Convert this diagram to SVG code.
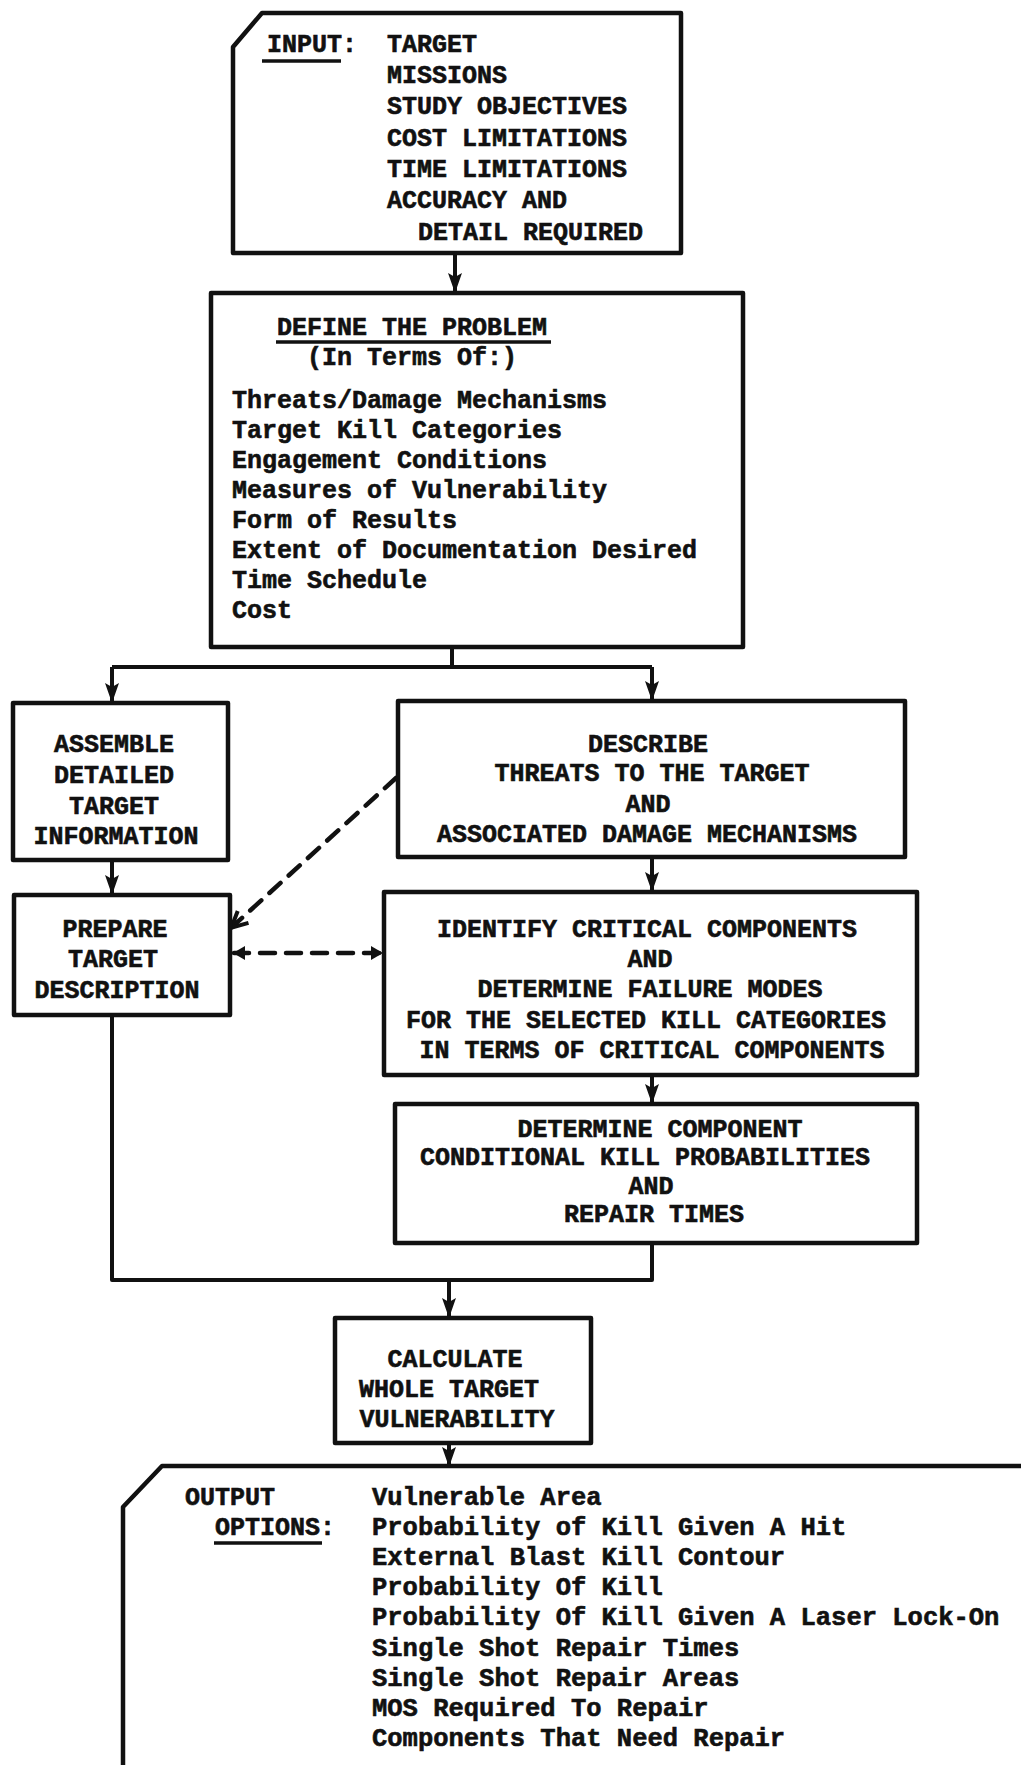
<svg xmlns="http://www.w3.org/2000/svg" width="1021" height="1765" viewBox="0 0 1021 1765">
<style>
.bg{fill:#ffffff}
.box{fill:none;stroke:#111;stroke-width:4.5;stroke-linejoin:round}
.ln{fill:none;stroke:#111;stroke-width:4;stroke-linejoin:round}
.dash{fill:none;stroke:#111;stroke-width:4.5;stroke-dasharray:15 11;stroke-linecap:round}
.t{font-family:"Liberation Mono","DejaVu Sans Mono",monospace;font-weight:bold;font-size:25px;fill:#111;stroke:#111;stroke-width:0.6}
.c{text-anchor:middle}
.ul{stroke:#111;stroke-width:3.5}
</style>
<defs>
<marker id="arr" markerUnits="userSpaceOnUse" markerWidth="20" markerHeight="16" refX="19" refY="8" orient="auto">
<path d="M0,1 L20,8 L0,15 L4,8 Z" fill="#111"/>
</marker>
<marker id="arrv" markerUnits="userSpaceOnUse" markerWidth="20" markerHeight="20" refX="17" refY="10" orient="auto">
<path d="M2,2 L18,10 L2,18" fill="none" stroke="#111" stroke-width="4"/>
</marker>
<marker id="arrs" markerUnits="userSpaceOnUse" markerWidth="12" markerHeight="16" refX="11" refY="8" orient="auto-start-reverse">
<path d="M0,1 L12,8 L0,15 Z" fill="#111"/>
</marker>
</defs>
<rect class="bg" x="0" y="0" width="1021" height="1765"/>

<g id="connectors">
<line class="ln" x1="455" y1="253" x2="455" y2="292" marker-end="url(#arr)"/>
<polyline class="ln" points="452,647 452,667"/>
<polyline class="ln" points="112,667 652,667"/>
<line class="ln" x1="112" y1="667" x2="112" y2="702" marker-end="url(#arr)"/>
<line class="ln" x1="652" y1="667" x2="652" y2="700" marker-end="url(#arr)"/>
<line class="ln" x1="112" y1="860" x2="112" y2="894" marker-end="url(#arr)"/>
<line class="ln" x1="652" y1="857" x2="652" y2="891" marker-end="url(#arr)"/>
<line class="ln" x1="652" y1="1075" x2="652" y2="1103" marker-end="url(#arr)"/>
<line class="dash" x1="396" y1="778" x2="232" y2="927" marker-end="url(#arrv)"/>
<line class="dash" x1="234" y1="953" x2="382" y2="953" marker-start="url(#arrs)" marker-end="url(#arrs)"/>
<polyline class="ln" points="112,1015 112,1280 652,1280 652,1243"/>
<line class="ln" x1="449" y1="1280" x2="449" y2="1317" marker-end="url(#arr)"/>
<line class="ln" x1="449" y1="1443" x2="449" y2="1466" marker-end="url(#arr)"/>
</g>

<g id="input">
<path class="box" d="M233,47 L262,13 L681,13 L681,253 L233,253 Z"/>
<text class="t" x="267" y="52">INPUT:</text>
<line class="ul" x1="262" y1="61" x2="341" y2="61"/>
<text class="t" x="387" y="52">TARGET</text>
<text class="t" x="387" y="83">MISSIONS</text>
<text class="t" x="387" y="114">STUDY OBJECTIVES</text>
<text class="t" x="387" y="146">COST LIMITATIONS</text>
<text class="t" x="387" y="177">TIME LIMITATIONS</text>
<text class="t" x="387" y="208">ACCURACY AND</text>
<text class="t" x="418" y="240">DETAIL REQUIRED</text>
</g>

<g id="define">
<rect class="box" x="211" y="293" width="532" height="354"/>
<text class="t" x="277" y="335">DEFINE THE PROBLEM</text>
<line class="ul" x1="276" y1="342" x2="551" y2="342"/>
<text class="t" x="307" y="365">(In Terms Of:)</text>
<text class="t" x="232" y="408">Threats/Damage Mechanisms</text>
<text class="t" x="232" y="438">Target Kill Categories</text>
<text class="t" x="232" y="468">Engagement Conditions</text>
<text class="t" x="232" y="498">Measures of Vulnerability</text>
<text class="t" x="232" y="528">Form of Results</text>
<text class="t" x="232" y="558">Extent of Documentation Desired</text>
<text class="t" x="232" y="588">Time Schedule</text>
<text class="t" x="232" y="618">Cost</text>
</g>

<g id="assemble">
<rect class="box" x="13" y="703" width="215" height="157"/>
<text class="t c" x="114" y="752">ASSEMBLE</text>
<text class="t c" x="114" y="783">DETAILED</text>
<text class="t c" x="114" y="814">TARGET</text>
<text class="t c" x="116" y="844">INFORMATION</text>
</g>

<g id="describe">
<rect class="box" x="398" y="701" width="507" height="156"/>
<text class="t c" x="648" y="752">DESCRIBE</text>
<text class="t c" x="652" y="781">THREATS TO THE TARGET</text>
<text class="t c" x="648" y="812">AND</text>
<text class="t c" x="647" y="842">ASSOCIATED DAMAGE MECHANISMS</text>
</g>

<g id="prepare">
<rect class="box" x="14" y="895" width="216" height="120"/>
<text class="t c" x="115" y="937">PREPARE</text>
<text class="t c" x="113" y="967">TARGET</text>
<text class="t c" x="117" y="998">DESCRIPTION</text>
</g>

<g id="identify">
<rect class="box" x="384" y="892" width="533" height="183"/>
<text class="t c" x="647" y="937">IDENTIFY CRITICAL COMPONENTS</text>
<text class="t c" x="650" y="967">AND</text>
<text class="t c" x="650" y="997">DETERMINE FAILURE MODES</text>
<text class="t c" x="646" y="1028">FOR THE SELECTED KILL CATEGORIES</text>
<text class="t c" x="652" y="1058">IN TERMS OF CRITICAL COMPONENTS</text>
</g>

<g id="determine">
<rect class="box" x="395" y="1104" width="522" height="139"/>
<text class="t c" x="660" y="1137">DETERMINE COMPONENT</text>
<text class="t c" x="645" y="1165">CONDITIONAL KILL PROBABILITIES</text>
<text class="t c" x="651" y="1194">AND</text>
<text class="t c" x="654" y="1222">REPAIR TIMES</text>
</g>

<g id="calculate">
<rect class="box" x="335" y="1318" width="256" height="125"/>
<text class="t c" x="455" y="1367">CALCULATE</text>
<text class="t c" x="449" y="1397">WHOLE TARGET</text>
<text class="t c" x="457" y="1427">VULNERABILITY</text>
</g>

<g id="output">
<path class="box" d="M123,1790 L123,1507 L162,1466 L1030,1466"/>
<text class="t" x="185" y="1505">OUTPUT</text>
<text class="t" x="215" y="1535">OPTIONS:</text>
<line class="ul" x1="214" y1="1543" x2="322" y2="1543"/>
<g class="t" style="font-size:25.5px">
<text x="372" y="1505">Vulnerable Area</text>
<text x="372" y="1535">Probability of Kill Given A Hit</text>
<text x="372" y="1565">External Blast Kill Contour</text>
<text x="372" y="1595">Probability Of Kill</text>
<text x="372" y="1625">Probability Of Kill Given A Laser Lock-On</text>
<text x="372" y="1656">Single Shot Repair Times</text>
<text x="372" y="1686">Single Shot Repair Areas</text>
<text x="372" y="1716">MOS Required To Repair</text>
<text x="372" y="1746">Components That Need Repair</text>
</g>
</g>
</svg>
